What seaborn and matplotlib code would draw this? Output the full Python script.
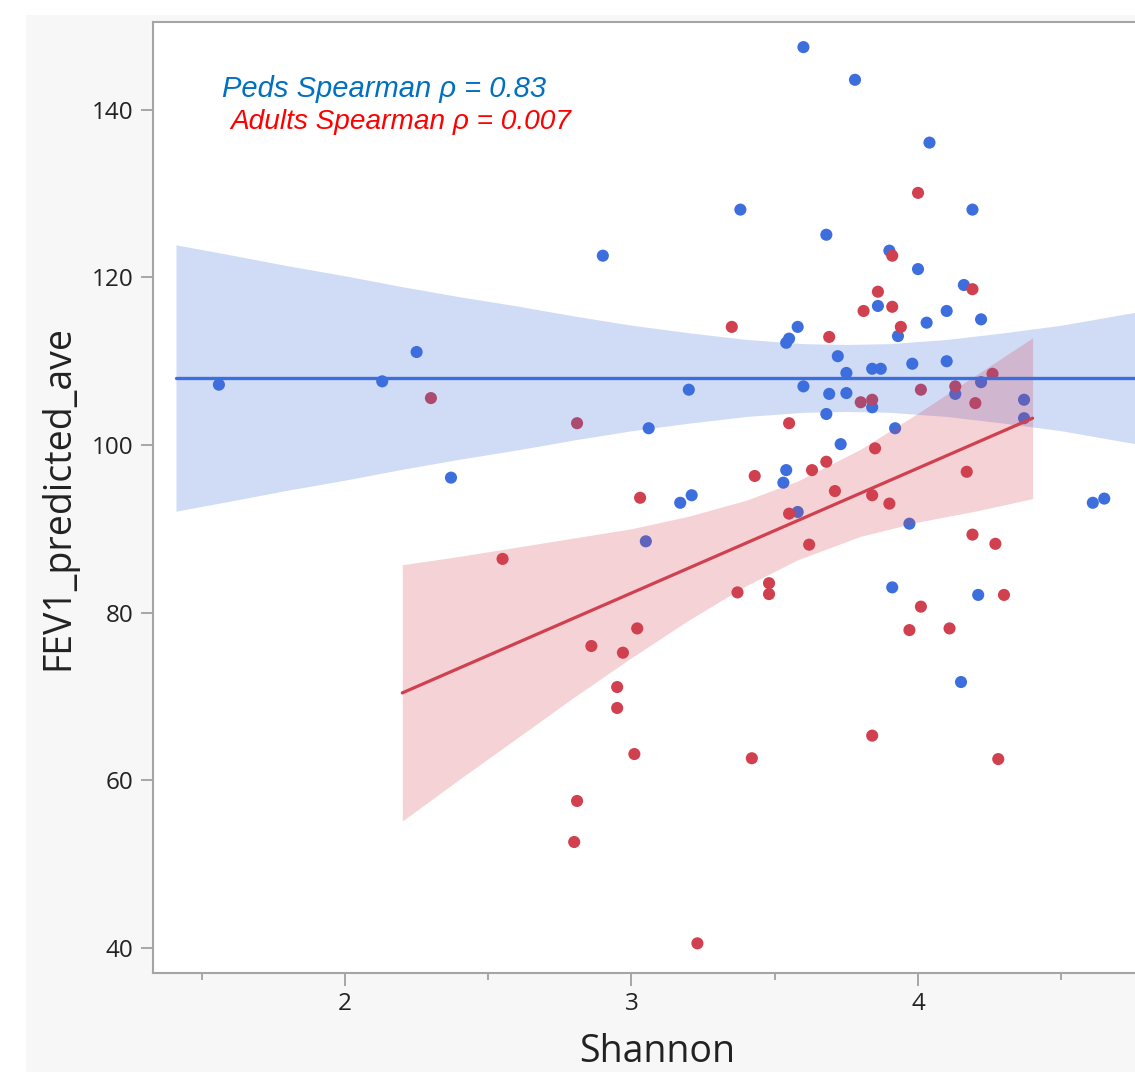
import matplotlib
matplotlib.use("Agg")
import matplotlib.pyplot as plt
from matplotlib.patches import Rectangle
import seaborn as sns
import pandas as pd

# points
peds_shannon = [1.56, 2.13, 2.25, 2.37, 2.90, 3.05, 3.06, 3.20, 3.17, 3.21,
                3.38, 3.60, 3.58, 3.55, 3.54, 3.60, 3.54, 3.53, 3.78, 4.04,
                4.19, 3.68, 3.90, 4.00, 4.16, 4.22, 4.10, 4.03, 3.86, 3.93,
                3.72, 3.75, 3.84, 3.87, 3.98, 4.10, 3.69, 3.75, 3.84, 3.68,
                3.92, 3.73, 4.13, 4.22, 4.37, 4.37, 4.61, 4.65, 3.97, 3.91,
                4.21, 4.15, 3.58]
peds_fev1 = [107.2, 107.6, 111.1, 96.1, 122.6, 88.5, 102.0, 106.6, 93.1, 94.0,
             128.1, 147.5, 114.1, 112.7, 112.2, 107.0, 97.0, 95.5, 143.6, 136.1,
             128.1, 125.1, 123.2, 121.0, 119.1, 115.0, 116.0, 114.6, 116.6, 113.0,
             110.6, 108.6, 109.1, 109.1, 109.7, 110.0, 106.1, 106.2, 104.5, 103.7,
             102.0, 100.1, 106.1, 107.5, 105.4, 103.2, 93.1, 93.6, 90.6, 83.0,
             82.1, 71.7, 92.0]

adults_shannon = [2.30, 2.55, 2.81, 3.35, 3.55, 3.43, 3.03, 3.55, 3.62, 3.02,
                  2.86, 2.97, 3.37, 3.48, 3.48, 2.95, 2.95, 3.01, 3.42, 2.81,
                  2.80, 3.23, 4.00, 3.91, 3.86, 4.19, 3.81, 3.91, 3.94, 3.69,
                  4.26, 4.13, 4.01, 3.80, 3.84, 4.20, 3.85, 3.68, 3.63, 3.71,
                  3.84, 4.17, 3.90, 4.19, 4.27, 4.30, 4.01, 3.97, 4.11, 3.84,
                  4.28]
adults_fev1 = [105.6, 86.4, 102.6, 114.1, 102.6, 96.3, 93.7, 91.8, 88.1, 78.1,
               76.0, 75.2, 82.4, 83.5, 82.2, 71.1, 68.6, 63.1, 62.6, 57.5,
               52.6, 40.5, 130.1, 122.6, 118.3, 118.6, 116.0, 116.5, 114.1, 112.9,
               108.5, 107.0, 106.6, 105.1, 105.4, 105.0, 99.6, 98.0, 97.0, 94.5,
               94.0, 96.8, 93.0, 89.3, 88.2, 82.1, 80.7, 77.9, 78.1, 65.3,
               62.5]

# fitted lines and confidence bands, also
peds_fit_x = [1.41, 4.85]
peds_fit_y = [108.0, 108.0]
peds_band_x = [1.41, 1.60, 1.80, 2.00, 2.20, 2.40, 2.60, 2.80, 3.00, 3.20,
               3.40, 3.60, 3.75, 3.90, 4.10, 4.30, 4.50, 4.70, 4.85]
peds_band_hi = [123.9, 122.7, 121.4, 120.2, 118.9, 117.7, 116.6, 115.4, 114.3, 113.4,
                112.6, 112.1, 112.0, 112.1, 112.6, 113.4, 114.3, 115.5, 116.4]
peds_band_lo = [92.1, 93.3, 94.6, 95.8, 97.1, 98.3, 99.4, 100.6, 101.7, 102.6,
                103.4, 103.9, 104.0, 103.9, 103.4, 102.6, 101.7, 100.5, 99.6]

adults_fit_x = [2.20, 4.40]
adults_fit_y = [70.4, 103.2]
adults_band_x = [2.20, 2.40, 2.60, 2.80, 3.00, 3.20, 3.40, 3.58, 3.80, 4.00, 4.20, 4.40]
adults_band_hi = [85.7, 86.7, 87.8, 88.9, 90.0, 91.5, 93.4, 95.7, 99.5, 103.8, 108.3, 112.8]
adults_band_lo = [55.1, 60.1, 65.0, 69.9, 74.6, 79.1, 83.2, 86.3, 89.1, 90.8, 92.1, 93.6]

BLUE = "#3d6edd"
RED = "#d1404f"

df = pd.concat([
    pd.DataFrame({"Shannon": peds_shannon, "FEV1_predicted_ave": peds_fev1, "group": "Peds"}),
    pd.DataFrame({"Shannon": adults_shannon, "FEV1_predicted_ave": adults_fev1, "group": "Adults"}),
])

sns.set_theme(style="white")
W, H = 1135, 1072
fig = plt.figure(figsize=(W / 100, H / 100), dpi=100)
fig.patch.set_facecolor("white")
fig.patches.append(Rectangle((26 / W, 0), 1, (H - 15) / H, transform=fig.transFigure,
                             facecolor="#f7f7f7", edgecolor="none", zorder=-5))

ax = fig.add_axes([153 / W, (H - 973) / H, (1161 - 153) / W, (973 - 22) / H])
ax.set_zorder(2)
ax.set_facecolor("white")

sns.scatterplot(data=df, x="Shannon", y="FEV1_predicted_ave", hue="group",
                palette={"Peds": BLUE, "Adults": RED}, s=76, linewidth=0,
                legend=False, ax=ax, zorder=1)

ax.fill_between(peds_band_x, peds_band_lo, peds_band_hi, color=BLUE, alpha=0.24,
                linewidth=0, zorder=2)
ax.fill_between(adults_band_x, adults_band_lo, adults_band_hi, color=RED, alpha=0.23,
                linewidth=0, zorder=3)
sns.lineplot(x=peds_fit_x, y=peds_fit_y, color=BLUE, linewidth=2.4, ax=ax, zorder=4)
sns.lineplot(x=adults_fit_x, y=adults_fit_y, color=RED, linewidth=2.3, ax=ax, zorder=4)

ax.set_xlim(1.330, 4.848)
ax.set_ylim(36.96, 150.5)
ax.set_xticks([2, 3, 4])
ax.set_xticks([1.5, 2.5, 3.5, 4.5], minor=True)
ax.set_yticks([40, 60, 80, 100, 120, 140])

ax.tick_params(axis="both", which="major", direction="out", length=9, width=1.3,
               color="#a0a0a0", labelsize=17.5, labelcolor="#222222", pad=5,
               bottom=True, left=True)
ax.tick_params(axis="x", which="minor", direction="out", length=5, width=1.3,
               color="#a0a0a0", bottom=True)
for lab in ax.get_xticklabels() + ax.get_yticklabels():
    lab.set_fontfamily(["Open Sans", "DejaVu Sans"])

for side in ["left", "bottom", "top"]:
    ax.spines[side].set_visible(True)
    ax.spines[side].set_color("#a5a5a5")
    ax.spines[side].set_linewidth(1.5)
ax.spines["right"].set_visible(False)

ax.set_xlabel("Shannon", fontsize=27, color="#222222", family=["Open Sans", "DejaVu Sans"])
ax.set_ylabel("FEV1_predicted_ave", fontsize=27, color="#222222", family=["Open Sans", "DejaVu Sans"])
ax.xaxis.set_label_coords(0.5, -0.063)
ax.yaxis.set_label_coords(-0.075, 0.5)

ax.text(1.571, 141.55, "Peds Spearman \u03c1 = 0.83", color="#0070c0", fontsize=21,
        style="italic", family=["Liberation Sans", "DejaVu Sans"])
ax.text(1.599, 137.7, "Adults Spearman \u03c1 = 0.007", color="#ff0000", fontsize=20.2,
        style="italic", family=["Liberation Sans", "DejaVu Sans"])

fig.savefig("out.png", dpi=100)
